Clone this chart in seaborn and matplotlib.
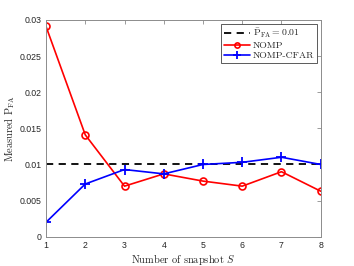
import matplotlib
matplotlib.use("Agg")
import matplotlib.pyplot as plt
import seaborn as sns
import pandas as pd

snapshots = [1, 2, 3, 4, 5, 6, 7, 8]
nomp = [0.0291, 0.0141, 0.0070, 0.0087, 0.0077, 0.0070, 0.0090, 0.0063]
nomp_cfar = [0.0020, 0.0073, 0.0093, 0.0087, 0.0100, 0.0103, 0.0110, 0.0100]
target_pfa = 0.01
xticks = [1, 2, 3, 4, 5, 6, 7, 8]
yticks = [0, 0.005, 0.01, 0.015, 0.02, 0.025, 0.03]
ytick_labels = ["0", "0.005", "0.01", "0.015", "0.02", "0.025", "0.03"]

sns.set_style("white")
plt.rcParams["mathtext.fontset"] = "cm"
plt.rcParams["font.family"] = ["Liberation Sans", "DejaVu Sans"]
serif = ["cmr10", "DejaVu Serif"]

fig = plt.figure(figsize=(3.54, 2.66), dpi=100)
ax = fig.add_axes([0.130, 0.110, 0.776, 0.815])

df_ref = pd.DataFrame({"S": snapshots, "v": [target_pfa] * len(snapshots)})
df_n = pd.DataFrame({"S": snapshots, "v": nomp})
df_c = pd.DataFrame({"S": snapshots, "v": nomp_cfar})

sns.lineplot(data=df_ref, x="S", y="v", ax=ax, color="black", linestyle=(0, (4, 3)),
             linewidth=1.3, label=r"$\bar{\mathrm{P}}_{\mathrm{FA}}=0.01$")
sns.lineplot(data=df_n, x="S", y="v", ax=ax, color="#ff0000", marker="o", markersize=5,
             markerfacecolor="none", markeredgecolor="#ff0000", markeredgewidth=1.2,
             linewidth=1.2, label="NOMP")
sns.lineplot(data=df_c, x="S", y="v", ax=ax, color="#0000ff", marker="+", markersize=7,
             markeredgecolor="#0000ff", markeredgewidth=1.3, linewidth=1.2,
             label="NOMP-CFAR")

ax.set_xlim(1, 8)
ax.set_ylim(0, 0.03)
ax.set_xticks(xticks)
ax.set_xticklabels([str(t) for t in xticks])
ax.set_yticks(yticks)
ax.set_yticklabels(ytick_labels)
ax.tick_params(direction="in", length=3, width=0.6, labelsize=6.3, colors="#262626",
               top=True, right=True, pad=3)
ax.tick_params(color="#8c8c8c")
for s in ax.spines.values():
    s.set_color("#8c8c8c")
    s.set_linewidth(0.7)
    s.set_visible(True)

ax.set_xlabel(r"Number of snapshot $S$", fontsize=7.5, color="#262626", labelpad=2,
              family=serif)
ax.set_ylabel(r"Measured $\mathrm{P}_{\mathrm{FA}}$", fontsize=7.5, color="#262626",
              labelpad=2, family=serif)

leg = ax.legend(loc="upper right", frameon=True, fancybox=False,
                prop={"family": serif, "size": 7},
                edgecolor="#404040", framealpha=1, borderpad=0.3, labelspacing=0.15,
                handlelength=2.6, handletextpad=0.3, borderaxespad=0.4, markerscale=0.75)
leg.get_frame().set_linewidth(0.6)

fig.savefig("out.png", dpi=100)
